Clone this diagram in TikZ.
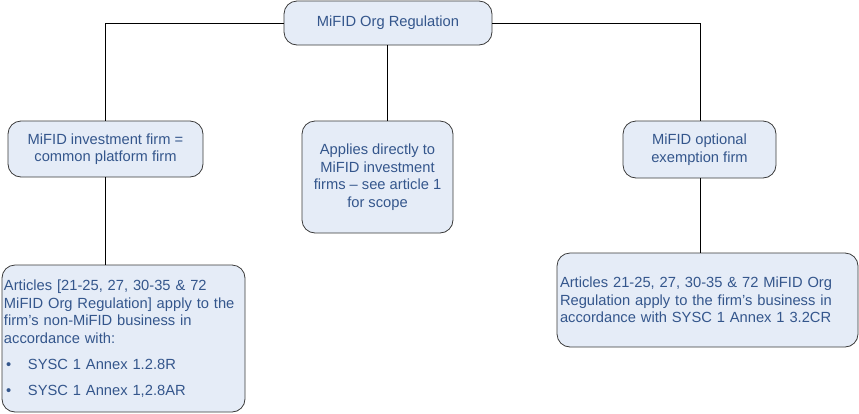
\documentclass[tikz,border=0pt]{standalone}
\usepackage{fontspec}
\setmainfont{Liberation Sans}
\definecolor{boxfill}{HTML}{E5ECF7}
\definecolor{boxtext}{HTML}{34568C}
\definecolor{boxline}{HTML}{3A3A3A}
\begin{document}
\begin{tikzpicture}[x=1pt,y=-1pt,
  box/.style={draw=boxline, line width=0.8pt, fill=boxfill, rounded corners=13pt,
    text=boxtext, font=\fontsize{14.7}{17.5}\selectfont, inner sep=3pt, align=center},
  conn/.style={draw=black, line width=0.9pt}]
\useasboundingbox (0,0) rectangle (859,413);
\node[box, minimum width=208pt, minimum height=44pt] (top) at (388,23) {MiFID Org Regulation};
\node[box, minimum width=195pt, minimum height=56pt] (left) at (105.5,149) {MiFID investment firm =\\common platform firm};
\node[box, minimum width=151pt, minimum height=112pt] (mid) at (377.5,177) {Applies directly to\\MiFID investment\\firms -- see article 1\\for scope};
\node[box, minimum width=153pt, minimum height=57pt] (right) at (699.5,149.5) {MiFID optional\\exemption firm};
\node[box, minimum width=243pt, minimum height=147pt, align=left, text width=239pt, inner sep=2pt] (bl) at (123.5,338.5)
  {Articles [21-25, 27, 30-35 \& 72\\MiFID Org Regulation] apply to the\\firm’s non-MiFID business in\\accordance with:\\[8.5pt]
   \makebox[24pt][l]{\hspace{2pt}•}SYSC 1 Annex 1.2.8R\\[8.5pt]
   \makebox[24pt][l]{\hspace{2pt}•}SYSC 1 Annex 1,2.8AR};
\node[box, minimum width=301pt, minimum height=94pt, align=left, text width=295pt] (br) at (707.5,300)
  {Articles 21-25, 27, 30-35 \& 72 MiFID Org\\Regulation apply to the firm’s business in\\accordance with SYSC 1 Annex 1 3.2CR};
\coordinate (lc) at (105,23);
\coordinate (rc) at (700,23);
\draw[conn] (top.west) -- (lc) -- (lc |- left.north);
\draw[conn] (top.east) -- (rc) -- (rc |- right.north);
\draw[conn] (top.south -| 387,0) -- (mid.north -| 387,0);
\draw[conn] (left.south -| lc) -- (bl.north -| lc);
\draw[conn] (right.south -| rc) -- (br.north -| rc);
\end{tikzpicture}
\end{document}
